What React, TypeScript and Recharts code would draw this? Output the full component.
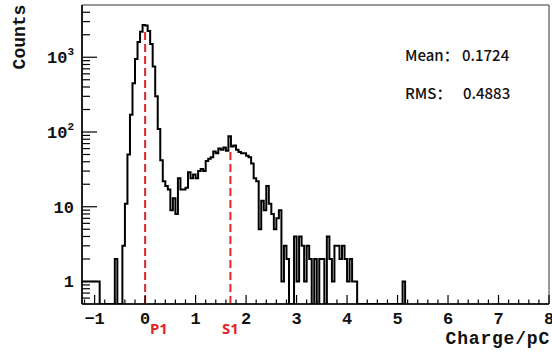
import { LineChart, Line, XAxis, YAxis, ReferenceLine, ReferenceArea } from "recharts";

// histogram: bins of 0.05 pC starting at -1.25 pC
const BIN_LOW = -1.25;
const BIN_WIDTH = 0.05;
const COUNTS = [
  1, 1, 1, 1, 1, 1, 1, // -1.25 .. -0.95
  0, 0, 0, 0, 0, 0, // -0.90 .. -0.65
  2, 0, 0, // -0.60 .. -0.50
  3, 11, 50, 170, 450, 950, 1600, 2200, 2700, // -0.45 .. -0.05
  2650, 2250, 1500, 750, 300, 110, 42, 22, 19, 17, // 0.00 .. 0.45
  9, 13, 8, 24, 17, 17, 18, 29, 24, 27, // 0.50 .. 0.95
  24, 30, 32, 30, 41, 44, 46, 55, 52, 60, // 1.00 .. 1.45
  58, 62, 56, 88, 64, 66, 58, 54, 52, 52, // 1.50 .. 1.95
  48, 46, 38, 24, 22, 5, 12, 9, 19, 11, // 2.00 .. 2.45
  8, 5, 7, 9, 1, 3, 2, 0, 0, 4, // 2.50 .. 2.95
  1, 4, 3, 1, 3, 2, 0, 2, 0, 2, // 3.00 .. 3.45
  2, 0, 4, 2, 1, 3, 3, 2, 3, 2, // 3.50 .. 3.95
  1, 2, 1, 1, // 4.00 .. 4.15
  0, 0, 0, 0, 0, 0, 0, 0, 0, 0, 0, 0, 0, 0, 0, 0, 0, 0, // 4.20 .. 5.05
  1, // 5.10
];

const PEAKS = [
  { name: "P1", x: 0, top: 2460 },
  { name: "S1", x: 1.69, top: 54 },
];
const MEAN = "0.1724";
const RMS = "0.4883";

const X_MAJOR = [-1, 0, 1, 2, 3, 4, 5, 6, 7, 8];
const Y_MAJOR = [1, 10, 100, 1000];
const Y_LABELS = ["1", "10", "10^2", "10^3"];
const Y_MINOR = [0.6, 0.7, 0.8, 0.9, 2, 3, 4, 5, 6, 7, 8, 9, 20, 30, 40, 50, 60, 70, 80, 90,
  200, 300, 400, 500, 600, 700, 800, 900, 2000, 3000, 4000];

const FLOOR = 0.5;
const X_DOMAIN = [-1.25, 8];
const Y_DOMAIN = [FLOOR, 5000];

const histData = COUNTS.map((c, i) => ({
  x: Math.round((BIN_LOW + i * BIN_WIDTH) * 100) / 100,
  y: Math.max(c, FLOOR),
}));
histData.push({
  x: Math.round((BIN_LOW + COUNTS.length * BIN_WIDTH) * 100) / 100,
  y: FLOOR,
});

const xTicks: number[] = [];
for (let k = -6; k <= 40; k++) xTicks.push(Math.round(k * 2) / 10);

const MONO = "'Liberation Mono', 'DejaVu Sans Mono', monospace";
const CJK = "'Noto Sans CJK SC', 'Noto Sans', sans-serif";

function XTick(props: any) {
  const { x, y, payload } = props;
  const v = payload.value;
  const major = X_MAJOR.includes(v);
  return (
    <g>
      <line x1={x} x2={x} y1={y} y2={y - (major ? 9 : 4.5)} stroke="#000" strokeWidth={1.2} />
      {major && (
        <text x={x} y={y + 20} textAnchor="middle" fontFamily={MONO} fontWeight="bold" fontSize={17} fill="#111">
          {v < 0 ? "\u2212" + Math.abs(v) : String(v)}
        </text>
      )}
    </g>
  );
}

function YTick(props: any) {
  const { x, y, payload } = props;
  const v = payload.value;
  const idx = Y_MAJOR.indexOf(v);
  const major = idx >= 0;
  let label: any = null;
  if (major) {
    const [base, exp] = Y_LABELS[idx].split("^");
    label = (
      <text x={x - 8} y={y + 6} textAnchor="end" fontFamily={MONO} fontWeight="bold" fontSize={17} fill="#111">
        {base}
        {exp && (
          <tspan fontSize={11} dy={-8}>
            {exp}
          </tspan>
        )}
      </text>
    );
  }
  return (
    <g>
      <line x1={x} x2={x + (major ? 15 : 8)} y1={y} y2={y} stroke="#000" strokeWidth={1.2} />
      {label}
    </g>
  );
}

export default function App() {
  return (
    <div style={{ position: "absolute", left: 0, top: 0, width: 552, height: 356, background: "#fff" }}>
      <LineChart width={552} height={356} data={histData} margin={{ top: 5, right: 3, left: 0, bottom: 0 }}>
        <ReferenceArea
          x1={X_DOMAIN[0]}
          x2={X_DOMAIN[1]}
          y1={Y_DOMAIN[0]}
          y2={Y_DOMAIN[1]}
          fill="none"
          stroke="#333"
          strokeWidth={1}
          ifOverflow="visible"
        />
        <XAxis
          type="number"
          dataKey="x"
          domain={X_DOMAIN}
          allowDataOverflow
          ticks={xTicks}
          interval={0}
          tickSize={0}
          tickMargin={0}
          tickLine={false}
          tick={<XTick />}
          height={52}
          axisLine={{ stroke: "#000", strokeWidth: 1.6 }}
        />
        <YAxis
          type="number"
          scale="log"
          domain={Y_DOMAIN}
          allowDataOverflow
          ticks={[...Y_MINOR, ...Y_MAJOR]}
          interval={0}
          tickSize={0}
          tickMargin={0}
          tickLine={false}
          tick={<YTick />}
          width={82}
          axisLine={{ stroke: "#000", strokeWidth: 1.6 }}
        />
        <Line
          type="stepAfter"
          dataKey="y"
          stroke="#000"
          strokeWidth={2}
          dot={false}
          activeDot={false}
          isAnimationActive={false}
        />
        {PEAKS.map((p) => (
          <ReferenceLine
            key={p.name}
            segment={[
              { x: p.x, y: FLOOR },
              { x: p.x, y: p.top },
            ]}
            stroke="#e3262b"
            strokeWidth={2}
            strokeDasharray="8 4"
            ifOverflow="visible"
          />
        ))}
      </LineChart>
      <svg
        width={552}
        height={356}
        style={{ position: "absolute", left: 0, top: 0, pointerEvents: "none" }}
      >
        <text
          x={25}
          y={37}
          transform="rotate(-90, 25, 37)"
          textAnchor="middle"
          fontFamily={MONO}
          fontWeight="bold"
          fontSize={18}
          fill="#111"
        >
          Counts
        </text>
        <text x={550} y={344} textAnchor="end" fontFamily={MONO} fontWeight="bold" fontSize={18} letterSpacing={0.8} fill="#111">
          Charge/pC
        </text>
        <text x={150} y={334} fontFamily="'Noto Sans', sans-serif" fontWeight="bold" fontSize={15} fill="#e3262b">
          {PEAKS[0].name}
        </text>
        <text x={222} y={334} fontFamily="'Noto Sans', sans-serif" fontWeight="bold" fontSize={15} fill="#e3262b">
          {PEAKS[1].name}
        </text>
        <text x={405} y={61} fontFamily={CJK} fontWeight={500} fontSize={15} fill="#111">
          Mean：
        </text>
        <text x={462} y={61} fontFamily={CJK} fontWeight={500} fontSize={15} fill="#111">
          {MEAN}
        </text>
        <text x={405} y={99} fontFamily={CJK} fontWeight={500} fontSize={15} fill="#111">
          RMS：
        </text>
        <text x={463} y={99} fontFamily={CJK} fontWeight={500} fontSize={15} fill="#111">
          {RMS}
        </text>
      </svg>
    </div>
  );
}
